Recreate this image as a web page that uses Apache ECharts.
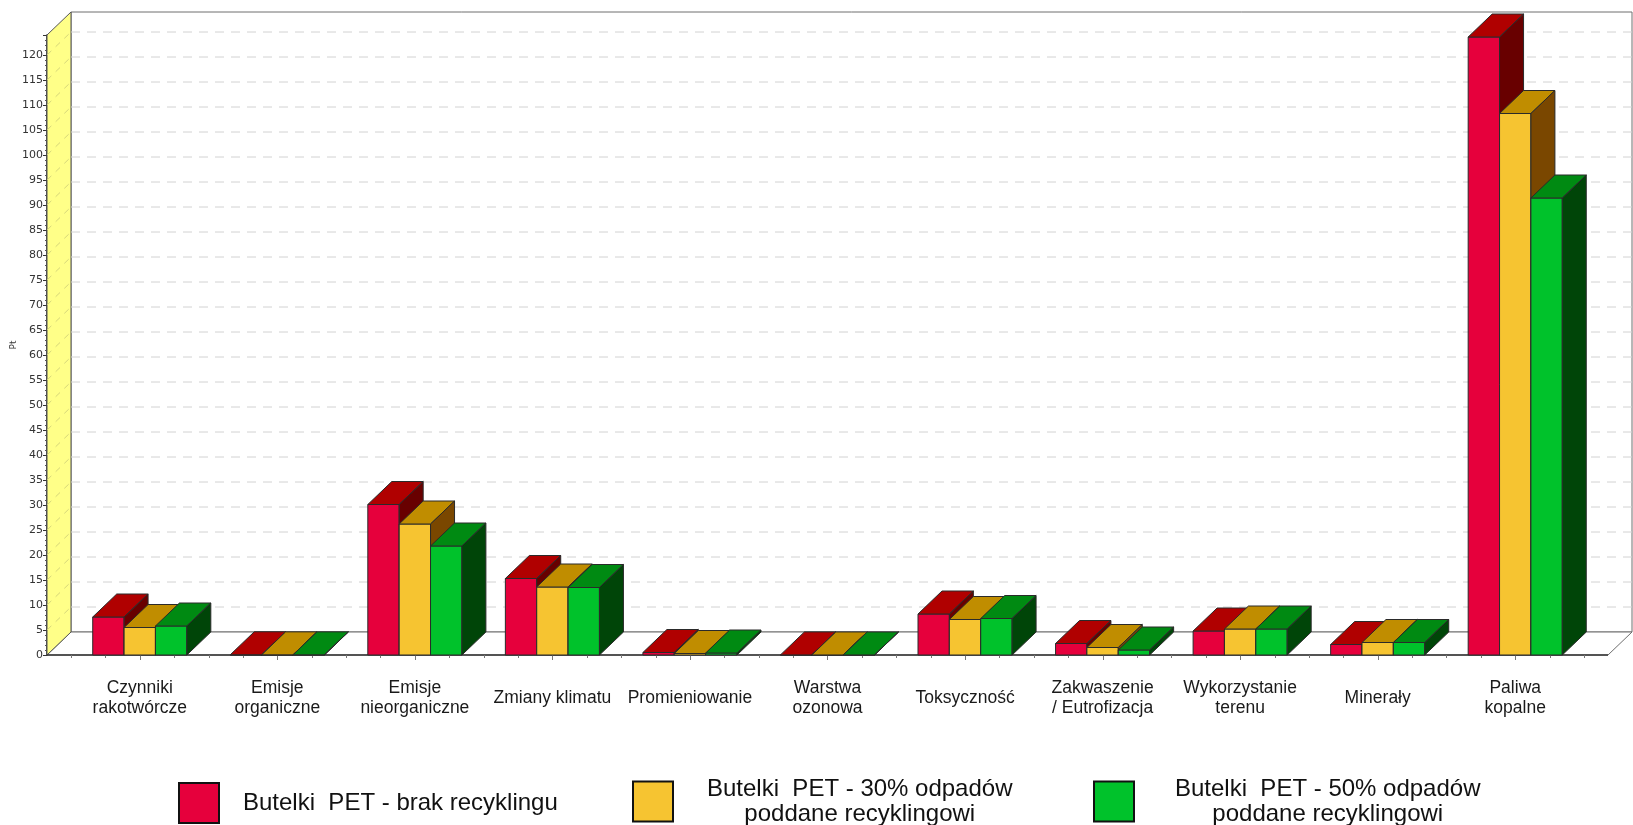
<!DOCTYPE html>
<html>
<head>
<meta charset="utf-8">
<title>Butelki PET – ocena cyklu życia</title>
<script src="https://cdn.jsdelivr.net/npm/echarts@6/dist/echarts.min.js"></script>
<style>
  html, body { margin: 0; padding: 0; background: #ffffff; }
  #chart { width: 1633px; height: 825px; }
</style>
</head>
<body>
<div id="chart"></div>
<script>
// Impact categories (x axis)
const categories = [
  'Czynniki\nrakotwórcze', 'Emisje\norganiczne', 'Emisje\nnieorganiczne', 'Zmiany klimatu',
  'Promieniowanie', 'Warstwa\nozonowa', 'Toksyczność', 'Zakwaszenie\n/ Eutrofizacja',
  'Wykorzystanie\nterenu', 'Minerały', 'Paliwa\nkopalne'
];

// Series names
const seriesNames = [
  'Butelki  PET - brak recyklingu',
  'Butelki  PET - 30% odpadów poddane recyklingowi',
  'Butelki  PET - 50% odpadów poddane recyklingowi'
];

// Values in Pt
const valuesNoRecycling = [7.6, 0.05, 30.1, 15.3, 0.5, 0.02, 8.2, 2.3, 4.8, 2.1, 123.6];
const values30Recycled  = [5.5, 0.03, 26.2, 13.6, 0.3, 0.01, 7.1, 1.5, 5.2, 2.5, 108.3];
const values50Recycled  = [5.8, 0.03, 21.8, 13.5, 0.4, 0.01, 7.3, 1.0, 5.2, 2.5, 91.4];

// Y axis gridline values
const yTicks = [5, 10, 15, 20, 25, 30, 35, 40, 45, 50, 55, 60, 65, 70, 75, 80, 85, 90, 95, 100, 105, 110, 115, 120];

// 3D look: depth offset of bars and walls (pixels)
const DX = 24, DY = -23;

// front / top / side shades for each series
const palettes = [
  { front: '#e6003c', top: '#b00000', side: '#680000' },
  { front: '#f6c431', top: '#c08d00', side: '#7a4700' },
  { front: '#00c22b', top: '#008a12', side: '#004508' }
];

const chart = echarts.init(document.getElementById('chart'), null, { renderer: 'canvas' });

function renderFrame(params, api) {
  const cs = params.coordSys;
  const band = api.size([1, 0])[0];
  const L = cs.x - DX, R = cs.x + cs.width + DX;
  const T = cs.y, y0 = api.coord([0, 0])[1];
  const children = [];
  // back wall
  children.push({ type: 'polygon', shape: { points: [[L + DX, T + DY], [R + DX, T + DY], [R + DX, y0 + DY], [L + DX, y0 + DY]] },
    style: { fill: '#ffffff', stroke: '#6e6e6e', lineWidth: 1 } });
  // floor
  children.push({ type: 'polygon', shape: { points: [[L, y0], [L + DX, y0 + DY], [R + DX, y0 + DY], [R, y0]] },
    style: { fill: '#ffffff', stroke: '#6e6e6e', lineWidth: 1 } });
  // left side wall
  children.push({ type: 'polygon', shape: { points: [[L, y0], [L, T], [L + DX, T + DY], [L + DX, y0 + DY]] },
    style: { fill: '#ffff88', stroke: '#555555', lineWidth: 1 } });
  // gridlines on side wall and back wall
  yTicks.forEach(function (v) {
    const y = api.coord([0, v])[1];
    children.push({ type: 'line', shape: { x1: L, y1: y, x2: L + DX, y2: y + DY },
      style: { stroke: '#d6d67a', lineWidth: 1, lineDash: [6, 6] } });
    children.push({ type: 'line', shape: { x1: L + DX, y1: y + DY, x2: R + DX, y2: y + DY },
      style: { stroke: '#d2d2d2', lineWidth: 1, lineDash: [9, 7] } });
  });
  // front floor edge
  children.push({ type: 'line', shape: { x1: L, y1: y0, x2: R, y2: y0 },
    style: { stroke: '#333333', lineWidth: 1.5 } });
  // quarter-band ticks on the front floor edge
  const n = categories.length * 4;
  for (let k = 0; k <= n; k++) {
    const x = Math.round(cs.x + k * band / 4) + 0.5;
    children.push({ type: 'line', shape: { x1: x, y1: y0, x2: x, y2: y0 + (k % 4 === 2 ? 5 : 3) },
      style: { stroke: '#777777', lineWidth: 1 } });
  }
  return { type: 'group', children: children };
}

function makeBarRenderer(k) {
  const pal = palettes[k];
  return function (params, api) {
    const i = api.value(0), v = api.value(1);
    const base = api.coord([i, 0]);
    const top = api.coord([i, v]);
    const band = api.size([1, 0])[0];
    const w = band * 0.228;
    const x0 = base[0] - 1.5 * w + k * w;
    const x1 = x0 + w;
    const yb = base[1], yt = top[1];
    const edge = { stroke: '#2a2a2a', lineWidth: 1 };
    return {
      type: 'group',
      children: [
        { type: 'rect', shape: { x: x0, y: yt, width: w, height: yb - yt },
          style: Object.assign({ fill: pal.front }, edge) },
        { type: 'polygon', shape: { points: [[x0, yt], [x1, yt], [x1 + DX, yt + DY], [x0 + DX, yt + DY]] },
          style: Object.assign({ fill: pal.top }, edge) },
        { type: 'polygon', shape: { points: [[x1, yt], [x1 + DX, yt + DY], [x1 + DX, yb + DY], [x1, yb]] },
          style: Object.assign({ fill: pal.side }, edge) }
      ]
    };
  };
}

const seriesValues = [valuesNoRecycling, values30Recycled, values50Recycled];

const legendText = {
  fontFamily: 'Liberation Sans', fontSize: 24, color: '#111111',
  rich: { c: { fontFamily: 'Liberation Sans', fontSize: 24, lineHeight: 25, color: '#111111', align: 'center' } }
};
const legendIcon = { borderColor: '#111111', borderWidth: 2 };

const option = {
  backgroundColor: '#ffffff',
  animation: false,
  grid: { left: 71, right: 49, top: 35, bottom: 170, containLabel: false, outerBoundsMode: 'none' },
  xAxis: {
    type: 'category',
    data: categories,
    axisLine: { show: false },
    axisTick: { show: false },
    axisLabel: {
      interval: 0, margin: 43, verticalAlign: 'middle',
      fontFamily: 'Liberation Sans', fontSize: 17.5, lineHeight: 20, color: '#1a1a1a'
    }
  },
  yAxis: {
    type: 'value', min: 0, max: 124, interval: 5, offset: 24,
    name: 'Pt', nameLocation: 'middle', nameGap: 29, nameRotate: 90, nameMoveOverlap: false,
    nameTextStyle: { fontFamily: 'DejaVu Sans', fontSize: 9, color: '#333333' },
    axisLine: { show: true, lineStyle: { color: '#111111', width: 1.5 } },
    axisTick: { show: true, length: 4, lineStyle: { color: '#333333' } },
    minorTick: { show: true, splitNumber: 5, length: 2, lineStyle: { color: '#555555' } },
    splitLine: { show: false },
    axisLabel: {
      margin: 4, fontFamily: 'DejaVu Sans', fontSize: 11, color: '#333333',
      formatter: function (v) { return v % 5 === 0 ? String(v) : ''; }
    }
  },
  legend: [
    {
      data: [seriesNames[0]], left: 173, top: 777, itemWidth: 40, itemHeight: 40, icon: 'rect',
      itemStyle: legendIcon, selectedMode: false,
      textStyle: Object.assign({ padding: [0, 0, 0, 19] }, legendText)
    },
    {
      data: [seriesNames[1]], left: 627, top: 772, itemWidth: 40, itemHeight: 40, icon: 'rect',
      itemStyle: legendIcon, selectedMode: false,
      formatter: function () { return '{c|Butelki  PET - 30% odpadów}\n{c|poddane recyklingowi}'; },
      textStyle: Object.assign({ padding: [0, 0, 0, 29] }, legendText)
    },
    {
      data: [seriesNames[2]], left: 1088, top: 772, itemWidth: 40, itemHeight: 40, icon: 'rect',
      itemStyle: legendIcon, selectedMode: false,
      formatter: function () { return '{c|Butelki  PET - 50% odpadów}\n{c|poddane recyklingowi}'; },
      textStyle: Object.assign({ padding: [0, 0, 0, 36] }, legendText)
    }
  ],
  series: [
    {
      name: 'frame', type: 'custom', silent: true, z: 1,
      renderItem: renderFrame,
      data: [[0, 0]]
    }
  ].concat(seriesValues.map(function (vals, k) {
    return {
      name: seriesNames[k], type: 'custom', z: 2 + k,
      itemStyle: { color: palettes[k].front },
      renderItem: makeBarRenderer(k),
      encode: { x: 0, y: 1 },
      data: vals.map(function (v, i) { return [i, v]; })
    };
  }))
};

chart.setOption(option);
</script>
</body>
</html>
